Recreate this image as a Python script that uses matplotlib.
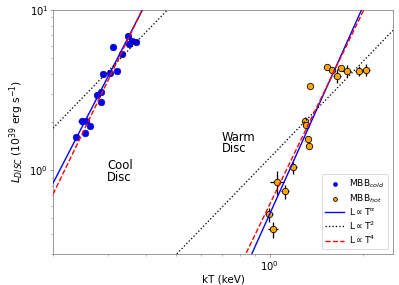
"""Disc luminosity vs temperature for the cold and hot MBB components."""

import numpy as np
import matplotlib
matplotlib.use("Agg")
import matplotlib.pyplot as plt
from matplotlib.ticker import NullFormatter

# cold MBB component: kT (keV), L_disc (1e39 erg/s) and errors
kt_cold = [0.237, 0.248, 0.256, 0.254, 0.263, 0.278, 0.286, 0.286, 0.290,
           0.306, 0.322, 0.313, 0.334, 0.350, 0.360, 0.352, 0.371]
l_cold = [1.61, 2.02, 2.02, 1.70, 1.88, 2.94, 3.07, 2.66, 3.98,
          4.04, 4.16, 5.87, 5.31, 6.88, 6.40, 6.13, 6.31]
kt_cold_err = [0.003, 0.0075, 0.003, 0.003, 0.003, 0.003, 0.003, 0.003, 0.003,
               0.003, 0.003, 0.003, 0.0075, 0.003, 0.003, 0.003, 0.003]
l_cold_err = [0.04, 0.10, 0.05, 0.04, 0.05, 0.06, 0.06, 0.06, 0.08,
              0.08, 0.08, 0.10, 0.23, 0.12, 0.12, 0.12, 0.12]

# hot MBB component
kt_hot = [1.529, 1.587, 1.647, 1.697, 1.775, 1.941, 2.045, 1.347, 1.298,
          1.307, 1.327, 1.337, 1.187, 1.054, 1.118, 0.993, 1.023]
l_hot = [4.40, 4.22, 3.87, 4.34, 4.16, 4.16, 4.22, 3.35, 2.02,
         1.91, 1.56, 1.41, 1.04, 0.841, 0.739, 0.531, 0.428]
kt_hot_err = [0.01, 0.01, 0.049, 0.038, 0.06, 0.058, 0.069, 0.01, 0.029,
              0.029, 0.015, 0.015, 0.035, 0.055, 0.033, 0.03, 0.038]
l_hot_err = [0.05, 0.05, 0.39, 0.19, 0.36, 0.30, 0.36, 0.03, 0.116,
             0.11, 0.067, 0.06, 0.09, 0.145, 0.074, 0.054, 0.049]

# power-law relations L = norm * T^index
alpha_cold, alpha_norm_cold = 3.75, 10 ** 2.540
alpha_hot, alpha_norm_hot = 4.3, 10 ** -0.274
t2_norm_cold, t2_norm_hot = 10 ** 1.66, 10 ** 0.077
t4_norm_cold, t4_norm_hot = 10 ** 2.646, 10 ** -0.214

x_range = (0.2, 2.5)
y_range = (0.3, 10)

dpi = 399 / 6.4
fig = plt.figure(figsize=(6.4, 285 / dpi), dpi=dpi)
ax = fig.add_axes([53 / 399, 1 - 254 / 285, 340 / 399, 244 / 285])

ax.errorbar(kt_cold, l_cold, xerr=kt_cold_err, yerr=l_cold_err, fmt='none',
            ecolor='k', elinewidth=1.5, zorder=2)
ax.scatter(kt_cold, l_cold, s=60, color='blue', edgecolors='darkblue',
           linewidths=0.6, label='MBB$_{cold}$', zorder=3)
ax.errorbar(kt_hot, l_hot, xerr=kt_hot_err, yerr=l_hot_err, fmt='none',
            ecolor='k', elinewidth=1.5, zorder=2)
ax.scatter(kt_hot, l_hot, s=55, color='orange', edgecolors='k',
           linewidths=0.9, label='MBB$_{hot}$', zorder=3)

t = np.geomspace(x_range[0], x_range[1], 200)
ax.plot(t, alpha_norm_cold * t ** alpha_cold, color='blue', lw=1.6,
        label=r'L$\propto$T$^{\alpha}$', zorder=4)
ax.plot(t, alpha_norm_hot * t ** alpha_hot, color='blue', lw=1.6, zorder=4)
ax.plot(t, t2_norm_cold * t ** 2, color='k', ls=':', lw=1.5,
        label=r'L$\propto$T$^{2}$', zorder=4)
ax.plot(t, t2_norm_hot * t ** 2, color='k', ls=':', lw=1.5, zorder=4)
ax.plot(t, t4_norm_cold * t ** 4, color='red', ls='--', lw=1.6,
        label=r'L$\propto$T$^{4}$', zorder=4)
ax.plot(t, t4_norm_hot * t ** 4, color='red', ls='--', lw=1.6, zorder=4)

ax.text(0.299, 0.985, 'Cool\nDisc', ha='left', va='center', fontsize=13.5,
        linespacing=0.85)
ax.text(0.70, 1.475, 'Warm\nDisc', ha='left', va='center', fontsize=13.5,
        linespacing=0.85)

ax.set_xscale('log')
ax.set_yscale('log')
ax.set_xlim(*x_range)
ax.set_ylim(*y_range)
ax.xaxis.set_minor_formatter(NullFormatter())
ax.yaxis.set_minor_formatter(NullFormatter())
for s in ax.spines.values():
    s.set_color('0.45')
ax.tick_params(which='both', color='0.45', labelsize=11.5, pad=2)

ax.set_xlabel('kT (keV)', fontsize=12, labelpad=2)
ax.set_ylabel(r'$L_{DISC}$ (10$^{39}$ erg s$^{-1}$)', fontsize=12.5,
              labelpad=4)
ax.legend(loc='lower right', fontsize=10.5, labelspacing=0.2,
          markerscale=0.6, handletextpad=0.6)

fig.savefig('out.png', dpi=dpi)
